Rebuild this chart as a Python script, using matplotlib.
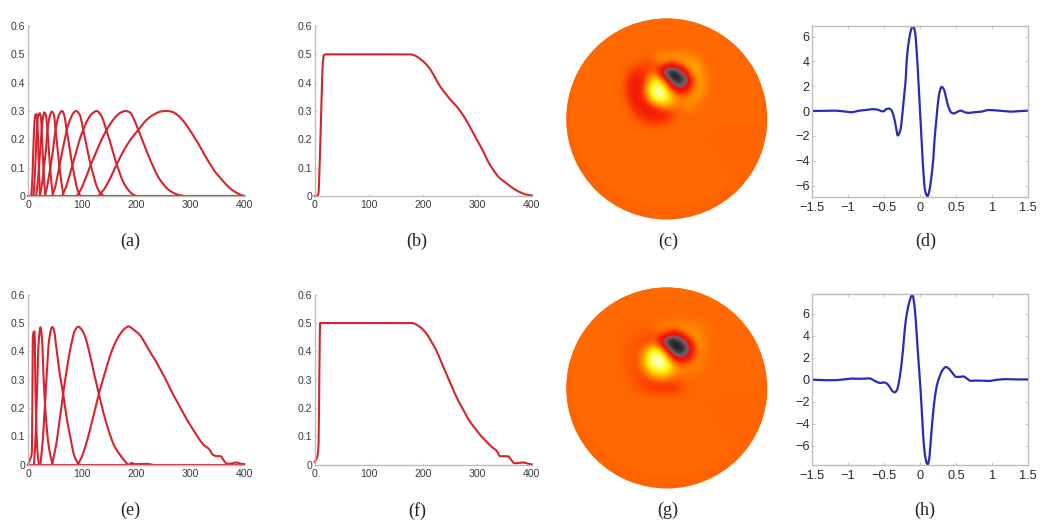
import numpy as np
import matplotlib
matplotlib.use("Agg")
import matplotlib.pyplot as plt
from matplotlib.colors import LinearSegmentedColormap
from matplotlib.patches import Circle, Wedge

W, H = 1050, 528
RED = "#d6242f"
BLUE = "#2b2bb8"
SPINE = "#bdbdbd"
TXT = "#3a3a3a"

# ---- panel (a)
a_x = [[0, 400],
       [6, 8, 10, 12, 14, 16, 18, 20, 22],
       [10, 12, 14, 16, 18, 22, 24, 26, 28, 30, 32],
       [15, 18, 21, 24, 26, 28, 30, 33, 36, 39, 42, 46],
       [22, 26, 30, 33, 36, 40, 44, 48, 51, 55, 59, 62, 66],
       [31, 35, 40, 45, 51, 57, 63, 67, 71.5, 76, 81, 86, 91, 97],
       [45, 50, 56, 62, 68, 71.5, 78, 84, 89, 96, 102, 108, 114, 120, 126, 132, 140],
       [63, 70, 78, 86, 94, 102, 110, 118, 127, 135, 145, 152, 160, 168, 176, 184, 192, 200],
       [90, 97, 105, 115, 125, 135, 145, 155, 165, 172, 180, 188, 195, 204, 212, 220, 230, 240, 250, 260, 270, 280, 290],
       [130, 140, 150, 160, 170, 180, 190, 204, 215, 225, 235, 245, 255, 265, 275, 285, 295, 305, 315, 325, 335, 345, 355, 365, 375, 385, 395, 400]]
a_y = [[0, 0],
       [0, .06, .17, .26, .288, .288, .23, .11, 0],
       [0, .05, .13, .22, .275, .292, .275, .2, .12, .05, 0],
       [0, .05, .12, .2, .245, .28, .295, .285, .233, .15, .075, 0],
       [0, .045, .11, .16, .233, .28, .298, .285, .233, .16, .09, .045, 0],
       [0, .03, .085, .145, .233, .285, .3, .285, .233, .18, .12, .07, .025, 0],
       [0, .03, .085, .145, .2, .233, .27, .293, .3, .285, .233, .18, .125, .08, .04, .015, 0],
       [0, .03, .08, .135, .19, .233, .268, .29, .3, .285, .233, .19, .135, .09, .05, .025, .008, 0],
       [0, .02, .055, .105, .15, .195, .232, .262, .285, .295, .3, .296, .275, .233, .195, .155, .11, .07, .042, .022, .01, .003, 0],
       [0, .022, .055, .095, .135, .17, .2, .233, .26, .278, .29, .298, .3, .298, .288, .27, .245, .215, .185, .15, .118, .088, .065, .043, .025, .012, .003, 0]]

# ---- panel (b)
b_x = [0, 5, 7, 9, 12, 15, 17, 20, 175, 183, 190, 200, 210, 220, 230, 240, 250, 260, 270, 280, 290, 300, 310, 320, 330, 340, 350, 360, 370, 380, 390, 400]
b_y = [0, 0, .01, .1, .3, .47, .497, .5, .5, .497, .49, .475, .455, .425, .39, .365, .34, .32, .295, .265, .23, .195, .16, .12, .09, .065, .05, .035, .022, .012, .005, .002]

# ---- panel (d)
d_x = [-1.5, -1.2, -1.05, -.95, -.85, -.75, -.65, -.58, -.53, -.5, -.47, -.43, -.4, -.36, -.33, -.31, -.27, -.24, -.22, -.2, -.185, -.16, -.13, -.1, -.07, -.04, -.02, 0, .02, .04, .07, .105, .13, .16, .185, .2, .22, .24, .27, .3, .33, .36, .39, .43, .47, .52, .57, .62, .67, .75, .85, .95, 1.05, 1.15, 1.25, 1.4, 1.5]
d_y = [0, .03, -.03, -.1, .02, .08, .15, .1, -.02, -.02, .15, .2, .1, -.5, -1.4, -1.97, -1.5, 0, 1.2, 2.4, 4, 5.4, 6.4, 6.87, 6.4, 4.3, 2.2, 0, -2.2, -4.3, -6.4, -6.87, -6.4, -5.2, -3.8, -2.4, -1.1, .2, 1.5, 1.95, 1.75, 1.1, .4, -.1, -.2, -.05, .03, -.1, -.15, -.1, -.05, .08, .05, 0, -.05, 0, .03]

# ---- panel (e)
e_x = [[0, 400],
       [0, 2, 5, 7, 8, 9, 11, 12, 14, 17, 20],
       [11, 14, 17, 20, 23, 26, 29, 33, 38, 45],
       [23, 27, 31, 35, 39, 45, 48, 52, 58, 65, 72, 79, 85, 93],
       [45, 52, 58, 65, 72, 80, 87, 93, 100, 106, 113, 120, 131, 140, 150, 160, 170, 178, 186, 192, 197, 220, 230],
       [93, 100, 110, 120, 131, 140, 150, 160, 170, 180, 186, 193, 200, 208, 216, 225, 235, 245, 255, 265, 275, 285, 295, 305, 315, 325, 335, 342, 350, 356, 362, 368, 375, 385, 392, 400]]
e_y = [[0, 0],
       [0, .01, .025, .04, .2, .45, .47, .47, .25, .06, 0],
       [0, .1, .28, .44, .485, .44, .3, .17, .07, .003],
       [.003, .08, .2, .33, .44, .486, .475, .42, .33, .25, .16, .09, .035, .002],
       [.003, .07, .15, .25, .34, .425, .475, .487, .475, .45, .4, .34, .25, .18, .115, .065, .035, .015, 0, .006, .002, .003, 0],
       [.002, .03, .09, .165, .25, .31, .375, .425, .46, .482, .488, .48, .47, .455, .43, .4, .37, .335, .3, .26, .225, .19, .155, .125, .095, .07, .055, .035, .03, .03, .015, .003, .004, .008, .004, .002]]

# ---- panel (f)
f_x = [0, 3, 5, 7, 8, 9, 10, 180, 187, 195, 205, 215, 225, 235, 245, 255, 265, 275, 285, 295, 305, 315, 325, 335, 342, 350, 356, 362, 368, 375, 385, 392, 400]
f_y = [.01, .02, .03, .07, .2, .4, .5, .5, .495, .485, .465, .435, .4, .355, .31, .265, .225, .19, .155, .13, .105, .085, .065, .05, .03, .03, .03, .018, .005, .006, .008, .004, .001]

# ---- panel (h)
h_x = [-1.5, -1.3, -1.2, -1.05, -.95, -.85, -.7, -.65, -.6, -.55, -.5, -.46, -.42, -.38, -.35, -.32, -.29, -.27, -.24, -.22, -.19, -.15, -.106, -.08, -.06, -.04, -.02, 0, .015, .03, .05, .075, .105, .13, .14, .16, .18, .2, .22, .24, .27, .31, .36, .4, .45, .5, .55, .6, .65, .7, .8, .95, 1.05, 1.2, 1.35, 1.5]
h_y = [0, -.05, -.05, .03, .1, .08, .12, -.02, -.2, -.3, -.25, -.35, -.65, -1.05, -1.15, -.95, -.15, .7, 2.4, 4, 5.7, 7, 7.72, 6.9, 5.5, 3.5, 1.7, 0, -1.7, -3.6, -5.6, -7.1, -7.7, -7.1, -6.2, -4.6, -3.1, -1.9, -1, -.35, .25, .85, 1.15, 1, .6, .25, .25, .3, .1, -.1, -.08, -.12, -.02, .05, .02, .03]

# ---- sphere surfaces (c) and (g): values read on a coarse grid around the blobs
c_grid = [
 [0]*16,
 [0,0,0,0,0,0,0,.02,.04,.05,.05,.05,.04,.02,0,0],
 [0,0,0,0,0,-.02,.1,.2,.22,.22,.2,.2,.15,.05,0,0],
 [0,0,-.02,-.05,-.08,-.1,-.05,.1,-.1,-.2,.1,.25,.3,.2,.03,0],
 [0,-.03,-.1,-.15,-.18,-.15,-.1,-.5,-.8,-.82,-.6,-.15,.25,.3,.1,0],
 [0,-.05,-.2,-.28,-.22,.1,.15,-.5,-.9,-1,-.9,-.65,.05,.3,.15,0],
 [0,-.1,-.35,-.42,-.25,.35,.65,.35,-.5,-.9,-.95,-.78,-.3,.2,.2,.02],
 [0,-.1,-.4,-.42,-.1,.6,.9,.8,.1,-.55,-.72,-.58,-.08,.22,.18,.02],
 [0,-.1,-.35,-.42,-.05,.6,.95,1,.6,.05,-.15,-.15,.1,.25,.12,0],
 [0,-.08,-.3,-.42,-.25,.3,.7,.8,.6,.3,.1,.1,.2,.2,.05,0],
 [0,-.04,-.18,-.38,-.42,-.2,.1,.3,.3,.15,.1,.15,.15,.08,0,0],
 [0,0,-.1,-.25,-.38,-.4,-.32,-.22,-.15,-.05,.03,.05,.05,0,0,0],
 [0,0,-.03,-.12,-.22,-.3,-.35,-.3,-.22,-.1,0,0,0,0,0,0],
 [0,0,0,-.03,-.08,-.12,-.15,-.12,-.05,0,0,0,0,0,0,0],
 [0]*16]
g_grid = [
 [0]*16,
 [0,0,0,0,0,0,.01,.03,.03,.04,.05,.05,.04,.03,.02,0],
 [0,0,0,0,0,0,.03,.08,.1,.12,.15,.15,.12,.1,.05,.02],
 [0,0,-.02,-.03,-.05,-.05,0,.05,-.1,-.3,-.1,.12,.2,.15,.08,.02],
 [0,-.02,-.03,-.05,-.08,-.1,-.1,-.48,-.82,-.88,-.75,-.42,.05,.2,.1,.03],
 [0,-.03,-.05,-.08,-.1,0,.05,-.45,-.92,-1,-.95,-.78,-.28,.15,.12,.02],
 [0,-.03,-.05,-.08,.1,.55,.65,.25,-.58,-.92,-.98,-.85,-.42,.1,.12,.02],
 [0,-.03,-.06,-.08,.3,.75,.95,.85,.1,-.55,-.78,-.65,-.25,.1,.1,.02],
 [0,-.03,-.06,-.08,.35,.75,1,1,.62,.03,-.2,-.2,.03,.12,.06,0],
 [0,-.03,-.06,-.08,.2,.6,.8,.85,.7,.35,.12,.1,.12,.08,.03,0],
 [0,-.02,-.05,-.1,-.05,.25,.45,.5,.4,.2,.08,.06,.05,.03,0,0],
 [0,-.02,-.04,-.1,-.15,-.12,-.02,.03,0,-.05,-.05,-.02,0,0,0,0],
 [0,0,-.03,-.07,-.12,-.17,-.2,-.22,-.22,-.18,-.1,-.03,0,0,0,0],
 [0,0,-.02,-.04,-.07,-.1,-.12,-.14,-.15,-.12,-.08,-.02,0,0,0,0],
 [0]*16]

panel_labels = ["(a)", "(b)", "(c)", "(d)", "(e)", "(f)", "(g)", "(h)"]
curve_yticks = [0, .1, .2, .3, .4, .5, .6]
curve_yticklabels = ["0", "0.1", "0.2", "0.3", "0.4", "0.5", "0.6"]
curve_xticks = [0, 100, 200, 300, 400]
wave_xticks = [-1.5, -1, -.5, 0, .5, 1, 1.5]
wave_xticklabels = ["\u22121.5", "\u22121", "\u22120.5", "0", "0.5", "1", "1.5"]
wave_yticks = [-6, -4, -2, 0, 2, 4, 6]
wave_yticklabels = ["\u22126", "\u22124", "\u22122", "0", "2", "4", "6"]

plt.rcParams["font.family"] = ["Liberation Sans", "DejaVu Sans"]
fig = plt.figure(figsize=(W / 100, H / 100), dpi=100)


def pixel_axes(x0, x1, ytop, ybot):
    return fig.add_axes([x0 / W, 1 - ybot / H, (x1 - x0) / W, (ybot - ytop) / H])


def smooth(x, y, per_seg=8):
    """Monotone cubic drawing path through the read points (line smoothing only)."""
    x = np.asarray(x, float)
    y = np.asarray(y, float)
    if len(x) < 3:
        return x, y
    h = np.diff(x)
    s = np.diff(y) / h
    m = np.zeros_like(x)
    for i in range(1, len(x) - 1):
        if s[i - 1] * s[i] > 0:
            w1 = 2 * h[i] + h[i - 1]
            w2 = h[i] + 2 * h[i - 1]
            m[i] = (w1 + w2) / (w1 / s[i - 1] + w2 / s[i])
    m[0], m[-1] = s[0], s[-1]
    xs, ys = [], []
    for i in range(len(h)):
        t = np.linspace(0, 1, per_seg, endpoint=False)
        xs.append(x[i] + t * h[i])
        ys.append((2*t**3 - 3*t**2 + 1) * y[i] + (t**3 - 2*t**2 + t) * h[i] * m[i]
                  + (-2*t**3 + 3*t**2) * y[i + 1] + (t**3 - t**2) * h[i] * m[i + 1])
    xs.append(x[-1:])
    ys.append(y[-1:])
    return np.concatenate(xs), np.concatenate(ys)


def curve_panel(box, xs, ys):
    ax = pixel_axes(*box)
    for x, y in zip(xs, ys):
        ax.plot(*smooth(x, y), color=RED, lw=1.5, solid_joinstyle="round", clip_on=False)
    ax.set_xlim(0, 400)
    ax.set_ylim(0, .6)
    ax.set_xticks(curve_xticks)
    ax.set_yticks(curve_yticks)
    ax.set_yticklabels(curve_yticklabels)
    for s in ("top", "right"):
        ax.spines[s].set_visible(False)
    for s in ("left", "bottom"):
        ax.spines[s].set_color(SPINE)
        ax.spines[s].set_linewidth(1.0)
    ax.tick_params(direction="in", length=1.5, width=.6, color=SPINE, labelsize=7.6,
                   labelcolor=TXT, pad=3)
    ax.tick_params(axis="y", pad=2)
    return ax


def wave_panel(box, x, y, ylim):
    ax = pixel_axes(*box)
    ax.plot(*smooth(x, y), color=BLUE, lw=1.6, solid_joinstyle="round")
    ax.set_xlim(-1.5, 1.5)
    ax.set_ylim(*ylim)
    ax.set_xticks(wave_xticks)
    ax.set_xticklabels(wave_xticklabels)
    ax.set_yticks(wave_yticks)
    ax.set_yticklabels(wave_yticklabels)
    for s in ax.spines.values():
        s.set_color(SPINE)
        s.set_linewidth(1.0)
    ax.tick_params(direction="in", length=2, width=.6, color=SPINE, labelsize=9.2,
                   labelcolor="#2a2a2a", top=True, right=True, pad=4)
    ax.tick_params(axis="y", pad=1.5)
    return ax


sphere_cmap = LinearSegmentedColormap.from_list("sphere", [
    (0.000, (20/255, 20/255, 25/255)),
    (0.125, (100/255, 95/255, 100/255)),
    (0.190, (170/255, 70/255, 80/255)),
    (0.250, (235/255, 10/255, 15/255)),
    (0.400, (250/255, 50/255, 0)),
    (0.500, (255/255, 104/255, 0)),
    (0.650, (255/255, 170/255, 0)),
    (0.775, (255/255, 235/255, 0)),
    (0.900, (255/255, 255/255, 100/255)),
    (1.000, (255/255, 255/255, 245/255))])


def sphere_panel(cx, cy, r, grid, grid_top, wedge_theta):
    ax = pixel_axes(cx - r - 2, cx + r + 2, cy - r - 2, cy + r + 2)
    ax.axis("off")
    to_color = lambda v: sphere_cmap((v + 1) / 2)
    clip = Circle((cx, cy), r, transform=ax.transData)
    ax.add_patch(Circle((cx, cy), r, fc=to_color(-.02), ec="none"))
    inner = Circle((cx, cy - 10), 97, fc=to_color(0), ec="none", zorder=1)
    ax.add_patch(inner)
    inner.set_clip_path(clip)
    wedge = Wedge((cx + 30, cy + 5), 120, *wedge_theta, fc=to_color(-.012), ec="none", zorder=1.1)
    ax.add_patch(wedge)
    wedge.set_clip_path(clip)
    arr = np.array(grid, dtype=float)
    im = ax.imshow(arr, extent=(617, 713, grid_top + 87, grid_top - 3), origin="upper",
                   cmap=sphere_cmap, vmin=-1, vmax=1, interpolation="bicubic",
                   zorder=2, aspect="auto")
    im.set_clip_path(clip)
    ax.set_xlim(cx - r - 2, cx + r + 2)
    ax.set_ylim(cy + r + 2, cy - r - 2)


curve_panel((28, 244.3, 26, 196), a_x, a_y)
curve_panel((314.7, 531.7, 26, 196), [b_x], [b_y])
wave_panel((811.7, 1028.3, 25.7, 196.7), d_x, d_y, (-6.9, 6.87))
curve_panel((28, 244.3, 294.7, 464.7), e_x, e_y)
curve_panel((314.7, 531.7, 294.7, 464.7), [f_x], [f_y])
wave_panel((811.7, 1028.3, 294, 464.7), h_x, h_y, (-7.72, 7.78))
sphere_panel(666.7, 119, 100.5, c_grid, 45, (0, 62))
sphere_panel(666.7, 388, 100.5, g_grid, 314, (0, 62))

label_x = [130, 417, 668, 926, 130, 417, 668, 925]
label_y = [241.7, 241.7, 241.7, 241.7, 510.7, 510.7, 510.7, 510.7]
for s, x, y in zip(panel_labels, label_x, label_y):
    fig.text(x / W, 1 - y / H, s, ha="center", va="center", fontsize=13,
             family="Liberation Serif", color="#222222")

fig.savefig("out.png", dpi=100)
